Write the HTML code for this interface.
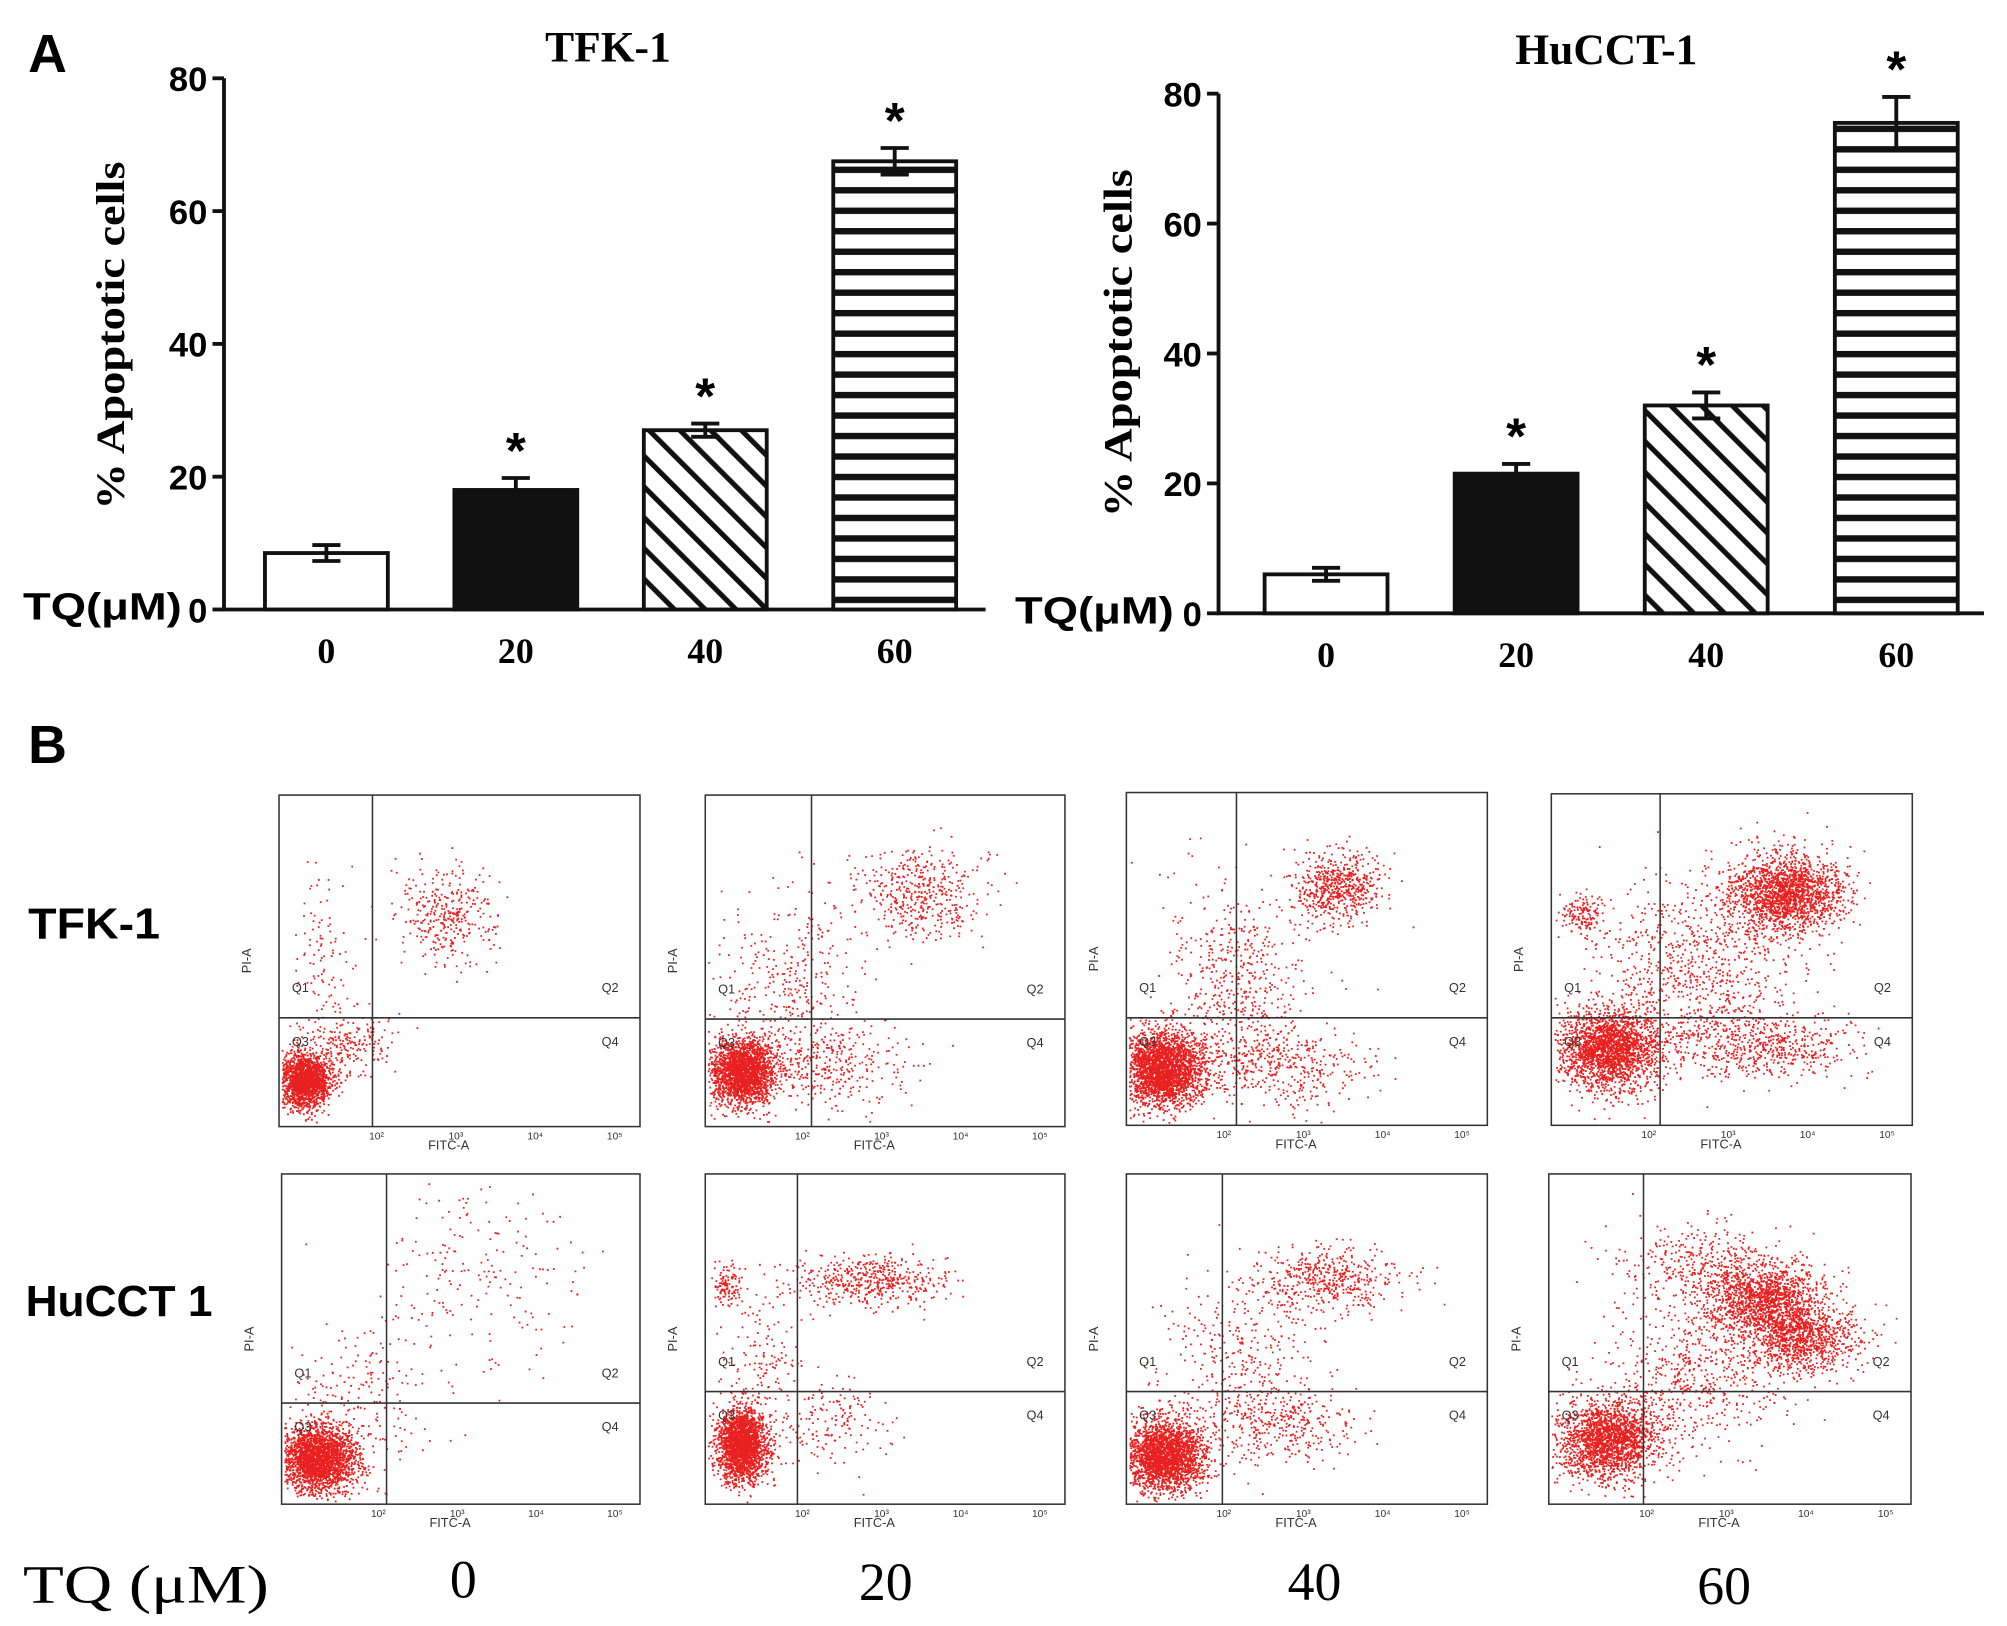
<!DOCTYPE html>
<html><head><meta charset="utf-8"><style>
html,body{margin:0;padding:0;background:#fff}
svg{display:block}
</style></head><body>
<svg id="fig" width="2007" height="1626" viewBox="0 0 1568 1270" xmlns="http://www.w3.org/2000/svg">
<defs>
<pattern id="diag" patternUnits="userSpaceOnUse" width="17" height="17" patternTransform="rotate(-45)">
<rect width="17" height="17" fill="#fff"/><rect x="0" y="0" width="4" height="17" fill="#111"/></pattern>
<pattern id="horiz" patternUnits="userSpaceOnUse" width="10" height="16" y="2">
<rect width="10" height="16" fill="#fff"/><rect x="0" y="0" width="10" height="5" fill="#111"/></pattern>
</defs>
<g font-family="Liberation Sans, sans-serif">
<text x="22" y="56" font-size="42" font-weight="bold">A</text>
<text x="22" y="596" font-size="42" font-weight="bold">B</text>
<text x="22" y="733" font-size="34" font-weight="bold" textLength="103" lengthAdjust="spacingAndGlyphs">TFK-1</text>
<text x="20" y="1028" font-size="34" font-weight="bold" textLength="146" lengthAdjust="spacingAndGlyphs">HuCCT 1</text>
</g>
<g font-family="Liberation Serif, serif" font-size="42">
<text x="18" y="1252" textLength="192" lengthAdjust="spacingAndGlyphs">TQ (μM)</text>
<text x="362" y="1248" text-anchor="middle">0</text>
<text x="692" y="1250" text-anchor="middle">20</text>
<text x="1027" y="1250" text-anchor="middle">40</text>
<text x="1347" y="1253" text-anchor="middle">60</text>
</g>
<g id="charts"></g>
<g id="flows"></g>
</svg>
<script>
const NS="http://www.w3.org/2000/svg";
const doses=["0","20","40","60"];
const tfkValues=[8.5,18,27,67.5];
const tfkErrors=[1.2,1.8,1.0,2.0];
const hucValues=[6,21.5,32,75.5];
const hucErrors=[1.0,1.5,2.0,4.0];
const yTicks=[0,20,40,60,80];
const stars=[false,true,true,true];
const fills=["#fff","#111","url(#diag)","url(#horiz)"];

function mk(tag,attrs,parent){const e=document.createElementNS(NS,tag);for(const k in attrs)e.setAttribute(k,attrs[k]);parent.appendChild(e);return e;}

function barChart(cfg,values,errors){
  const g=mk('g',{},document.getElementById('charts'));
  
  
  const y=v=>cfg.y0-(v/80)*(cfg.y0-cfg.y80);
  const xc=i=>cfg.x0+i*cfg.step;
  const t=mk('text',{x:cfg.titleX,y:cfg.titleY,'font-family':'Liberation Serif, serif','font-size':34,'font-weight':'bold','text-anchor':'middle'},g);
  t.textContent=cfg.title;
  
  
  const yl=mk('text',{transform:`translate(${cfg.ylx},${cfg.yly}) rotate(-90)`,'font-family':'Liberation Serif, serif','font-size':31,'font-weight':'bold','text-anchor':'middle',textLength:272,lengthAdjust:'spacingAndGlyphs'},g);
  yl.textContent='% Apoptotic cells';
  
  
  const ax=mk('path',{d:`M${cfg.ax} ${y(80)} V${cfg.y0} H${cfg.xEnd}`,stroke:'#111','stroke-width':3,fill:'none'},g);
  
  
  yTicks.forEach(v=>{
    const tk=mk('line',{x1:cfg.ax-9,x2:cfg.ax,y1:y(v),y2:y(v),stroke:'#111','stroke-width':3},g);
    
    
    const tl=mk('text',{x:cfg.ax-13,y:y(v)+10,'font-family':'Liberation Sans, sans-serif','font-size':27,'font-weight':'bold','text-anchor':'end'},g);
    tl.textContent=v;
    
    
  });
  const tq=mk('text',{x:cfg.tqx,y:cfg.y0+8,'font-family':'Liberation Sans, sans-serif','font-size':30,'font-weight':'bold',textLength:124,lengthAdjust:'spacingAndGlyphs'},g);
  tq.textContent='TQ(μM)';
  
  
  values.forEach((v,i)=>{
    const cx=xc(i);
    const b=mk('rect',{x:cx-48,y:y(v),width:96,height:cfg.y0-y(v),fill:fills[i],stroke:'#111','stroke-width':3},g);
    
    
    const top=y(v+errors[i]),bot=y(v-errors[i]);
    const e=mk('path',{d:`M${cx} ${y(v)} V${top} M${cx-11} ${top} H${cx+11} M${cx-11} ${bot} H${cx+11} M${cx} ${bot} V${y(v)}`,stroke:'#111','stroke-width':3,fill:'none'},g);
    
    
    const xl=mk('text',{x:cx,y:cfg.y0+42,'font-family':'Liberation Serif, serif','font-size':28,'font-weight':'bold','text-anchor':'middle'},g);
    xl.textContent=doses[i];
    
    
    if(stars[i]){
      const s=mk('text',{x:cx,y:top-8,'font-family':'Liberation Sans, sans-serif','font-size':40,'font-weight':'bold','text-anchor':'middle'},g);
      s.textContent='*';
      
      
    }
  });
}
barChart({name:'chart-tfk1',title:'TFK-1',titleX:475,titleY:48,y0:476,y80:61,ax:175,xEnd:770,x0:255,step:148,ylx:97,yly:262,tqx:18},tfkValues,tfkErrors);
barChart({name:'chart-hucct1',title:'HuCCT-1',titleX:1255,titleY:50,y0:479,y80:73,ax:952,xEnd:1550,x0:1036,step:148.5,ylx:884,yly:268,tqx:793},hucValues,hucErrors);

const panelBoxes=[[218,621,500,880],[551,621,832,880],[880,619,1162,879],[1212,620,1494,879],
 [220,917,500,1175],[551,917,832,1175],[880,917,1162,1175],[1210,917,1493,1175]];
const gates=[[291,795],[634,796],[966,795],[1297,795],[302,1096],[623,1087],[955,1087],[1284,1087]];
// clusters per panel: [fx, fy, sx, sy, count]
const clusters=[
 [[0.07,0.86,0.035,0.04,1800],[0.46,0.36,0.07,0.07,350],[0.12,0.5,0.05,0.12,100],[0.2,0.75,0.06,0.05,200]],
 [[0.1,0.83,0.045,0.05,2200],[0.6,0.3,0.09,0.07,450],[0.25,0.6,0.1,0.15,400],[0.35,0.82,0.12,0.06,300]],
 [[0.1,0.83,0.055,0.055,2600],[0.58,0.28,0.06,0.05,600],[0.3,0.6,0.1,0.15,600],[0.45,0.82,0.12,0.06,350]],
 [[0.16,0.77,0.07,0.06,2200],[0.65,0.3,0.08,0.06,1800],[0.4,0.55,0.14,0.15,900],[0.6,0.76,0.12,0.05,500],[0.08,0.36,0.03,0.03,150]],
 [[0.1,0.86,0.055,0.05,2400],[0.55,0.3,0.14,0.14,200],[0.2,0.7,0.1,0.12,200]],
 [[0.1,0.82,0.035,0.055,2200],[0.45,0.32,0.1,0.04,500],[0.06,0.34,0.02,0.03,120],[0.15,0.6,0.06,0.15,200],[0.35,0.75,0.08,0.06,150]],
 [[0.1,0.85,0.055,0.055,2400],[0.55,0.32,0.1,0.05,500],[0.3,0.6,0.1,0.15,400],[0.45,0.76,0.1,0.06,300]],
 [[0.16,0.8,0.07,0.06,2000],[0.6,0.38,0.08,0.06,1500],[0.7,0.5,0.08,0.05,900],[0.4,0.6,0.12,0.12,600],[0.4,0.27,0.12,0.06,350]]
];
let seed=12345;
function rnd(){seed=(seed*16807)%2147483647;return seed/2147483647;}
function gauss(){let u=rnd()||1e-9,v=rnd();return Math.sqrt(-2*Math.log(u))*Math.cos(2*Math.PI*v);}
const fg=document.getElementById('flows');
panelBoxes.forEach((b,p)=>{
  const [x1,y1,x2,y2]=b,w=x2-x1,h=y2-y1;
  const g=mk('g',{},fg);
  
  
  let d='';
  clusters[p].forEach(c=>{
    for(let k=0;k<c[4];k++){
      const px=x1+w*(c[0]+c[2]*gauss()), py=y1+h*(c[1]+c[3]*gauss());
      if(px>x1+2&&px<x2-2&&py>y1+2&&py<y2-2) d+=`M${px.toFixed(1)} ${py.toFixed(1)}h1.4v1.4h-1.4z`;
    }
  });
  const dots=mk('path',{d:d,fill:'#e8201f'},g);
  
  
  const bx=mk('rect',{x:x1,y:y1,width:w,height:h,fill:'none',stroke:'#333','stroke-width':1.2},g);
  
  
  const [vx,hy]=gates[p];
  const q=mk('path',{d:`M${vx} ${y1} V${y2} M${x1} ${hy} H${x2}`,stroke:'#333','stroke-width':1.2,fill:'none'},g);
  
  
  const fx=mk('text',{x:x1+w*0.47,y:y2+18,'font-family':'Liberation Sans, sans-serif','font-size':10,'text-anchor':'middle',fill:'#333'},g);
  fx.textContent='FITC-A';
  
  
  const pi=mk('text',{transform:`translate(${x1-22},${y1+h*0.5}) rotate(-90)`,'font-family':'Liberation Sans, sans-serif','font-size':10,'text-anchor':'middle',fill:'#333'},g);
  pi.textContent='PI-A';
  
  
  [['Q1',x1+10,hy-20],['Q2',x2-30,hy-20],['Q3',x1+10,hy+22],['Q4',x2-30,hy+22]].forEach(l=>{
    const t=mk('text',{x:l[1],y:l[2],'font-family':'Liberation Sans, sans-serif','font-size':10,fill:'#333'},g);
    t.textContent=l[0];
    
    
  });
  ['10²','10³','10⁴','10⁵'].forEach((s,i)=>{
    const t=mk('text',{x:x1+w*(0.27+i*0.22),y:y2+10,'font-family':'Liberation Sans, sans-serif','font-size':8,'text-anchor':'middle',fill:'#333'},g);
    t.textContent=s;
    
    
  });
});
</script>
</body></html>
